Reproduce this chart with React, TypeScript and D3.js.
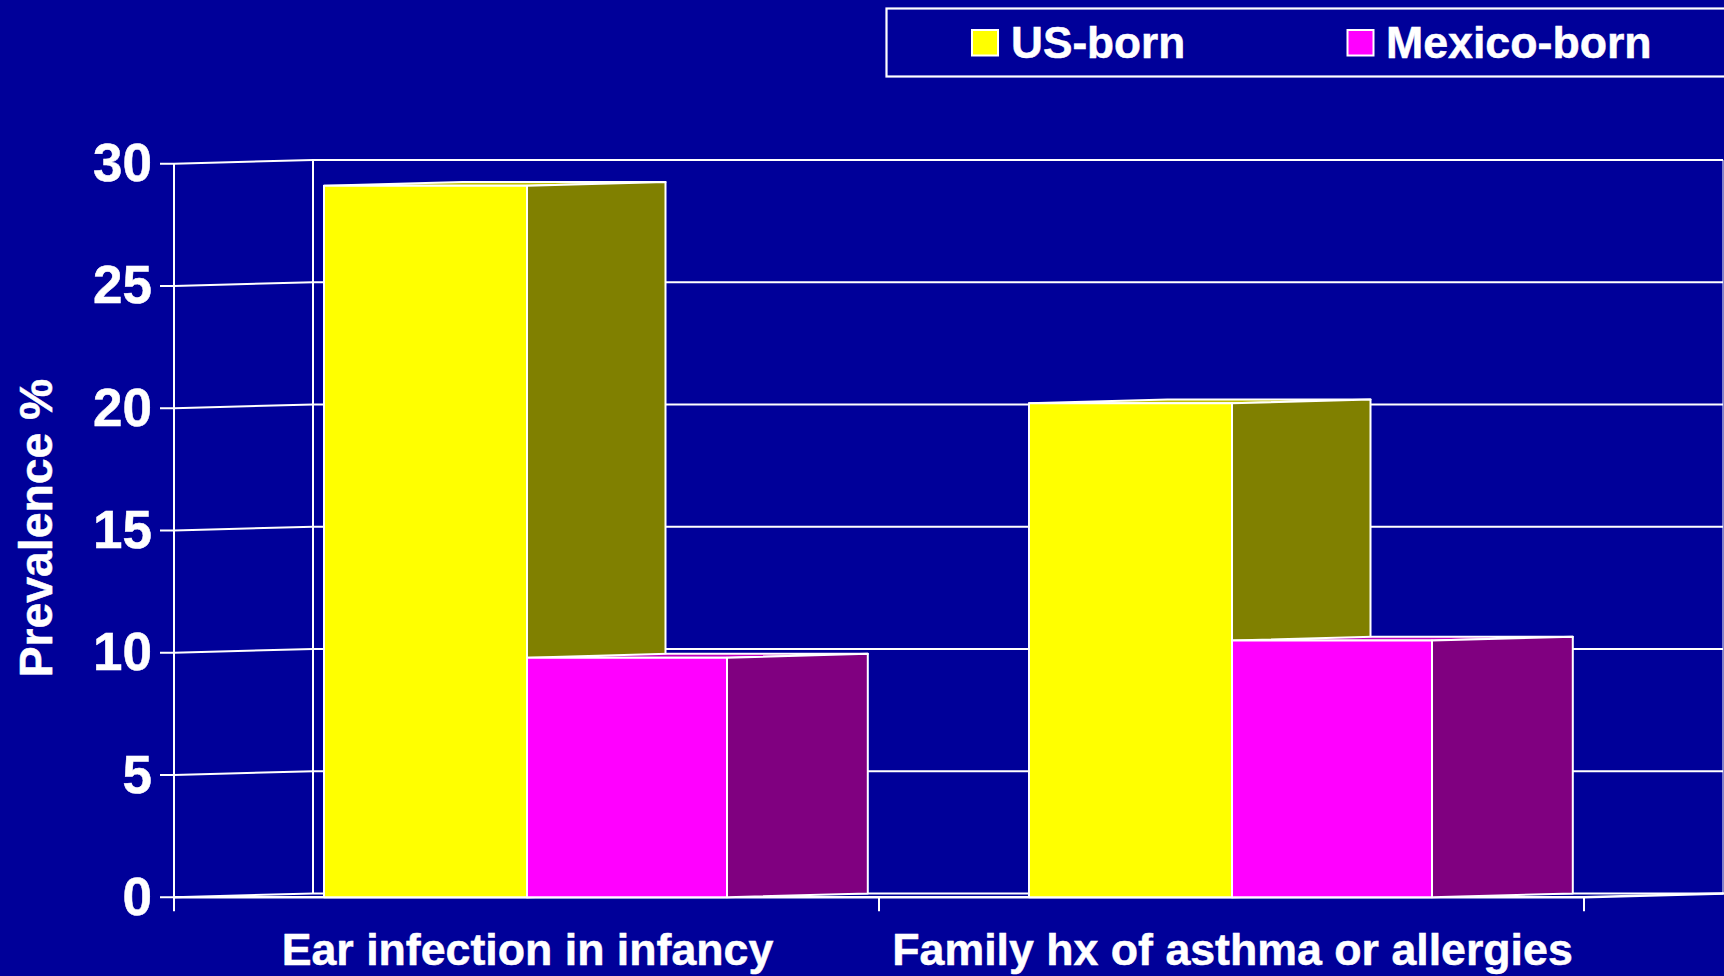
import React from "react";
import { scaleBand, scaleLinear, scaleOrdinal } from "d3";

const categories = ["Ear infection in infancy", "Family hx of asthma or allergies"];
const seriesNames = ["US-born", "Mexico-born"];
const usBorn = [29.1, 20.2];
const mexicoBorn = [9.8, 10.5];
const yTicks = [0, 5, 10, 15, 20, 25, 30];

const seriesValues = [usBorn, mexicoBorn];
const frontColors = ["#ffff00", "#ff00ff"];
const sideColors = ["#808000", "#800080"];
const topColors = ["#c0c000", "#c000c0"];

const width = 1724;
const height = 976;
const bg = "#000099";
const depthX = 139; // the fake 3d offset of the back wall
const depthY = -3.8;
const font = "'Liberation Sans', Arial, sans-serif";

const xScale = scaleBand().domain(categories).range([174, 1584]);
const yScale = scaleLinear().domain([0, 30]).range([897.3, 163.7]);
// edges of each bar inside its category, and how far its side goes back
const barLeft = scaleOrdinal().domain(seriesNames).range([150, 353]);
const barRight = scaleOrdinal().domain(seriesNames).range([353, 553]);
const barDepth = scaleOrdinal().domain(seriesNames).range([138.5, 140.8]);

const poly = (pts: number[][]) => pts.map((p) => p.join(",")).join(" ");

const App = () => {
	const x0 = xScale.range()[0];
	const x1 = xScale.range()[1];
	const y0 = yScale(0);

	return (
		<svg
			width={width}
			height={height}
			style={{ position: "fixed", left: 0, top: 0, background: bg }}
			fontFamily={font}
			fontWeight="bold"
			fill="white"
		>
			{/* legend */}
			<rect x={886.5} y={8.5} width={850} height={68} fill="none" stroke="white" strokeWidth={2.2} />
			{seriesNames.map((name, i) => (
				<g key={name}>
					<rect
						x={[972, 1347.5][i]}
						y={30}
						width={26}
						height={25.5}
						fill={frontColors[i]}
						stroke="white"
						strokeWidth={2}
					/>
					<text
						x={[1011, 1386][i]}
						y={58}
						fontSize={[44.2, 44.7][i]}
						stroke="white"
						strokeWidth={0.5}
					>
						{name}
					</text>
				</g>
			))}

			{/* walls */}
			<line x1={x0} x2={x0} y1={yScale(30)} y2={y0 + 14} stroke="white" strokeWidth={2} />
			<line
				x1={x0 + depthX}
				x2={x0 + depthX}
				y1={yScale(30) + depthY}
				y2={y0 + depthY}
				stroke="white"
				strokeWidth={2}
			/>
			<line
				x1={x1 + depthX}
				x2={x1 + depthX}
				y1={yScale(30) + depthY}
				y2={y0 + depthY}
				stroke="white"
				strokeWidth={1}
			/>
			{yTicks.map((t) => (
				<g key={t}>
					<polyline
						points={poly([
							[x0 - 14, yScale(t)],
							[x0, yScale(t)],
							[x0 + depthX, yScale(t) + depthY],
							[x1 + depthX, yScale(t) + depthY],
						])}
						fill="none"
						stroke="white"
						strokeWidth={2}
					/>
					<text
						x={x0 - 22}
						y={yScale(t) + 17.5}
						fontSize={53}
						textAnchor="end"
						stroke="white"
						strokeWidth={0.5}
					>
						{t}
					</text>
				</g>
			))}

			{/* floor */}
			<line x1={x0} x2={x1} y1={y0} y2={y0} stroke="white" strokeWidth={2.5} />
			<line x1={x1} x2={width} y1={y0} y2={y0 + depthY} stroke="white" strokeWidth={2.5} />
			{[x0 + xScale.bandwidth(), x1].map((tx) => (
				<line key={tx} x1={tx} x2={tx} y1={y0} y2={y0 + 14} stroke="white" strokeWidth={2} />
			))}

			{/* bars */}
			{categories.map((cat, c) =>
				seriesNames.map((name, s) => {
					const l = xScale(cat) + barLeft(name);
					const r = xScale(cat) + barRight(name);
					const d = barDepth(name);
					const top = yScale(seriesValues[s][c]);
					return (
						<g key={cat + name} stroke="white" strokeWidth={2} strokeLinejoin="round">
							<polygon
								points={poly([
									[l, top],
									[r, top],
									[r + d, top + depthY],
									[l + d, top + depthY],
								])}
								fill={topColors[s]}
							/>
							<polygon
								points={poly([
									[r, top],
									[r + d, top + depthY],
									[r + d, y0 + depthY],
									[r, y0],
								])}
								fill={sideColors[s]}
							/>
							<rect x={l} y={top} width={r - l} height={y0 - top} fill={frontColors[s]} />
						</g>
					);
				})
			)}

			{/* category labels */}
			{categories.map((cat) => (
				<text
					key={cat}
					x={xScale(cat) + xScale.bandwidth() / 2 + 1}
					y={965}
					fontSize={44.7}
					textAnchor="middle"
					stroke="white"
					strokeWidth={0.5}
				>
					{cat}
				</text>
			))}

			{/* y title */}
			<text
				transform="translate(52,528) rotate(-90)"
				fontSize={46.3}
				textAnchor="middle"
				stroke="white"
				strokeWidth={0.5}
			>
				Prevalence %
			</text>
		</svg>
	);
};

export default App;
